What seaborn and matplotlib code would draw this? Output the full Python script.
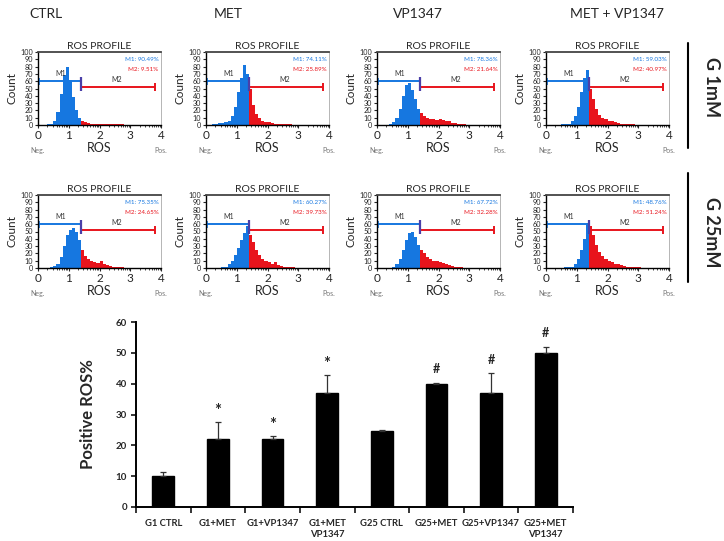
import numpy as np
import pandas as pd
import matplotlib
matplotlib.use("Agg")
import matplotlib.pyplot as plt
from matplotlib.lines import Line2D
import seaborn as sns

# ---------------- data ----------------
column_titles = ["CTRL", "MET", "VP1347", "MET + VP1347"]
row_titles = ["G 1mM", "G 25mM"]

# histogram bin heights (Count, 0-100 scale), bins of width 0.1 from 0.0 to 3.6
h_g1_ctrl = [0, 0, 0, 1, 2, 6, 18, 42, 68, 80,
             62, 38, 20, 10, 6, 4, 3, 2, 2, 2,
             1, 2, 1, 1, 1, 1, 1, 1, 0.5, 0,
             0, 0, 0, 0, 0, 0]
h_g1_met = [0, 0, 1, 2, 3, 3, 4, 6, 12, 25,
            45, 65, 82, 70, 50, 28, 15, 9, 6, 4,
            4, 3, 2, 2, 1, 1, 1, 1, 0.5, 0.5,
            0, 0, 0, 0, 0, 0]
h_g1_vp = [0, 0, 0, 0, 1, 4, 10, 22, 40, 55,
           58, 48, 35, 22, 16, 12, 10, 8, 8, 7,
           8, 7, 6, 5, 3, 3, 2, 1, 1, 0.5,
           0, 0, 0, 0, 0, 0]
h_g1_combo = [0, 0, 0, 0, 0, 1, 1, 2, 5, 12,
              25, 45, 65, 76, 50, 35, 22, 14, 10, 8,
              6, 5, 4, 3, 2, 2, 1, 1, 1, 0.5,
              0, 0, 0, 0, 0, 0]
h_g25_ctrl = [0, 0, 0, 0, 1, 3, 6, 15, 30, 45,
              52, 55, 50, 38, 25, 17, 13, 10, 8, 7,
              9, 6, 4, 3, 2, 2, 1, 1, 0.5, 0.5,
              0, 0, 0, 0, 0, 0]
h_g25_met = [0, 0, 0, 0, 0, 1, 2, 5, 10, 18,
             28, 38, 48, 58, 45, 35, 25, 18, 12, 10,
             8, 6, 8, 4, 3, 2, 2, 1, 1, 0.5,
             0, 0, 0, 0, 0, 0]
h_g25_vp = [0, 0, 0, 0, 0.5, 2, 5, 12, 25, 38,
            48, 50, 42, 32, 25, 20, 15, 12, 10, 9,
            8, 7, 5, 4, 3, 2, 1, 1, 0.5, 0.5,
            0, 0, 0, 0, 0, 0]
h_g25_combo = [0, 0, 0, 0, 0, 0, 1, 1, 2, 5,
               12, 25, 40, 62, 58, 45, 32, 22, 16, 12,
               10, 8, 6, 5, 4, 3, 2, 2, 1, 1,
               1, 0.5, 0, 0, 0, 0]

m1_pct = [["90.49", "74.11", "78.36", "59.03"],
          ["75.35", "60.27", "67.72", "48.76"]]
m2_pct = [["9.51", "25.89", "21.64", "40.97"],
          ["24.65", "39.73", "32.28", "51.24"]]

bar_labels = ["G1 CTRL", "G1+MET", "G1+VP1347", "G1+MET\nVP1347",
              "G25 CTRL", "G25+MET", "G25+VP1347", "G25+MET\nVP1347"]
bar_values = [10.2, 22.0, 22.1, 36.9, 24.7, 39.8, 36.9, 50.1]
bar_errors = [1.1, 5.5, 0.9, 5.9, 0.3, 0.5, 6.5, 1.9]
bar_marks = ["", "*", "*", "*", "", "#", "#", "#"]

# ---------------- style ----------------
sns.set_style("ticks")
plt.rcParams["font.family"] = ["Lato", "DejaVu Sans"]

W, H = 724, 541
fig = plt.figure(figsize=(W / 100, H / 100), dpi=100)

def fx(px):
    return px / W

def fy(py):
    return 1 - py / H

BLUE = "#1677e0"
RED = "#e8141c"
GATE = 1.4
BINW = 0.1
NBINS = len(h_g1_ctrl)
centers = np.arange(NBINS) * BINW + BINW / 2

hists = [[h_g1_ctrl, h_g1_met, h_g1_vp, h_g1_combo],
         [h_g25_ctrl, h_g25_met, h_g25_vp, h_g25_combo]]

col_left = [38, 206, 377, 546]
row_top = [52, 195]
row_bottom = [125, 268]
panel_w = 123

minor_x = [d + np.log10(k) for d in range(4) for k in range(2, 10)]

for r in range(2):
    for c in range(4):
        ax = fig.add_axes([fx(col_left[c]), fy(row_bottom[r]),
                           fx(panel_w), (row_bottom[r] - row_top[r]) / H])
        h = np.array(hists[r][c], dtype=float)
        df = pd.DataFrame({"ros": centers, "count": h})
        left = df[df["ros"] < GATE]
        right = df[df["ros"] >= GATE]
        sns.histplot(data=left, x="ros", weights="count", binwidth=BINW,
                     binrange=(0, GATE), element="step", fill=True,
                     color=BLUE, alpha=1, linewidth=0, ax=ax)
        sns.histplot(data=right, x="ros", weights="count", binwidth=BINW,
                     binrange=(GATE, NBINS * BINW), element="step", fill=True,
                     color=RED, alpha=1, linewidth=0, ax=ax)
        ax.set_xlim(0, 4)
        ax.set_ylim(0, 100)
        ax.set_xticks([0, 1, 2, 3, 4])
        ax.set_xticklabels(["0", "1", "2", "3", "4"], fontsize=8.5)
        ax.set_xticks(minor_x, minor=True)
        ax.set_yticks(range(0, 101, 10))
        ax.set_yticklabels([str(v) for v in range(0, 101, 10)], fontsize=5.2)
        ax.tick_params(axis="both", which="major", length=2.5, width=0.8, pad=1)
        ax.tick_params(axis="x", which="minor", length=1.5, width=0.6)
        ax.set_xlabel("ROS", fontsize=9, labelpad=1)
        ax.set_ylabel("Count", fontsize=8.5, labelpad=2)
        ax.set_title("ROS PROFILE", fontsize=7.5, pad=2)
        for s in ["left", "bottom"]:
            ax.spines[s].set_color("black")
            ax.spines[s].set_linewidth(1.0)
        ax.spines["top"].set_color("#444444")
        ax.spines["top"].set_linewidth(1.3)
        ax.spines["right"].set_color("#aaaaaa")
        ax.spines["right"].set_linewidth(0.6)
        # gates
        ax.hlines(60, 0, GATE, color=BLUE, lw=1.4)
        ax.vlines(0.03, 55, 65, color=BLUE, lw=1.2)
        ax.hlines(52, GATE, 3.8, color=RED, lw=1.4)
        ax.vlines(3.8, 46, 58, color=RED, lw=1.4)
        ax.vlines(GATE, 47, 66, color="#4a3fa8", lw=1.6)
        ax.text(0.75, 70, "M1", fontsize=5, ha="center", va="center", color="#333333")
        ax.text(2.55, 62, "M2", fontsize=5, ha="center", va="center", color="#333333")
        ax.text(0.98, 0.93, f"M1: {m1_pct[r][c]}%", transform=ax.transAxes,
                fontsize=4.5, ha="right", va="top", color=BLUE)
        ax.text(0.98, 0.80, f"M2: {m2_pct[r][c]}%", transform=ax.transAxes,
                fontsize=4.5, ha="right", va="top", color=RED)
        ax.text(0.0, -0.30, "Neg.", transform=ax.transAxes, fontsize=5,
                ha="center", va="top", color="#777777")
        ax.text(1.0, -0.30, "Pos.", transform=ax.transAxes, fontsize=5,
                ha="center", va="top", color="#777777")

# column headers
for c, t in enumerate(column_titles):
    cx = [46, 228, 418, 617][c]
    fig.text(fx(cx), fy(14), t, fontsize=10, ha="center", va="center")

# row labels with vertical rules
for (y0, y1, yc), t in zip([(43, 148, 87), (173, 282, 232)], row_titles):
    fig.add_artist(Line2D([fx(688), fx(688)], [fy(y0), fy(y1)], color="black", lw=1.5))
    fig.text(fx(712), fy(yc), t, fontsize=13, fontweight="bold",
             rotation=-90, ha="center", va="center")

# ---------------- bar chart ----------------
bax = fig.add_axes([fx(136), fy(507), fx(573 - 136), (507 - 322) / H])
bdf = pd.DataFrame({"group": bar_labels, "value": bar_values})
sns.barplot(data=bdf, x="group", y="value", color="black", width=0.4,
            errorbar=None, ax=bax, edgecolor="black", saturation=1)
xs = np.arange(len(bar_values))
bax.errorbar(xs, bar_values, yerr=[np.zeros(len(bar_errors)), bar_errors],
             fmt="none", ecolor="#333333", elinewidth=0.9, capsize=2.2, capthick=0.9)
for x, v, e, m in zip(xs, bar_values, bar_errors, bar_marks):
    if m == "*":
        bax.text(x, v + e + 3.6, m, ha="center", va="center",
                 fontsize=12, fontweight="bold")
    elif m:
        bax.text(x, v + e + 4.3, m, ha="center", va="center",
                 fontsize=9, fontweight="bold")
bax.set_xlim(-0.5, 7.5)
bax.set_ylim(0, 60)
bax.set_yticks(range(0, 61, 10))
bax.set_yticklabels([str(v) for v in range(0, 61, 10)], fontsize=7, fontweight="bold")
bax.set_xticks(xs)
bax.set_xticklabels(bar_labels, fontsize=6.8, fontweight="bold", linespacing=1.15)
bax.set_xticks(np.arange(-0.5, 8, 1), minor=True)
bax.tick_params(axis="x", which="major", length=0, pad=9)
bax.tick_params(axis="x", which="minor", length=4, width=1.3)
bax.tick_params(axis="y", length=3.5, width=1.3, pad=3)
bax.set_xlabel("")
bax.set_ylabel("Positive ROS%", fontsize=12, fontweight="bold", labelpad=14)
for s in ["top", "right"]:
    bax.spines[s].set_visible(False)
for s in ["left", "bottom"]:
    bax.spines[s].set_linewidth(1.4)
    bax.spines[s].set_color("black")

fig.savefig("out.png", dpi=100)
